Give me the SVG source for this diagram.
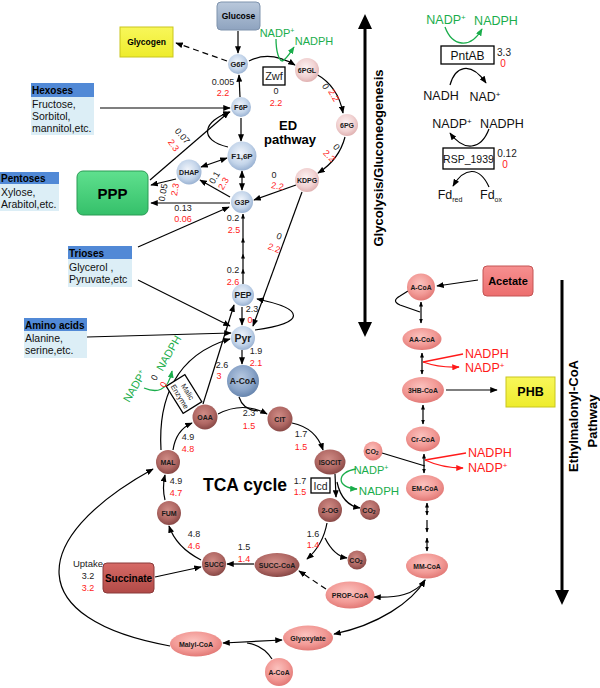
<svg xmlns="http://www.w3.org/2000/svg" width="600" height="688" viewBox="0 0 600 688">
<style>
.ln{fill:none;stroke:#000;stroke-width:1.2}
.ds{stroke-dasharray:6,4}
.gl{fill:none;stroke:#1aad4b;stroke-width:1.3}
.rl{fill:none;stroke:#ff1a1a;stroke-width:1.3}
.t{font-family:"Liberation Sans",Arial,sans-serif;font-size:9px;text-anchor:middle;fill:#222}
.nl{font-family:"Liberation Sans",Arial,sans-serif;font-weight:bold;font-size:7px;text-anchor:middle;fill:#1a1a1a}
.b{font-family:"Liberation Sans",Arial,sans-serif;font-weight:bold;text-anchor:middle;fill:#000}
.bx{font-family:"Liberation Sans",Arial,sans-serif;font-size:10.5px;fill:#111}
.hd{font-family:"Liberation Sans",Arial,sans-serif;font-size:10px;font-weight:bold;fill:#000}
.big{font-family:"Liberation Sans",Arial,sans-serif;font-size:12.5px;text-anchor:middle;fill:#111}
.st{text-anchor:start}
text.r{fill:#ff1a1a}
text.g{fill:#1aad4b}
.hdr{fill:#5189d6}
.bdy{fill:#dceef6}
.blue{fill:url(#gB)}
.dblue{fill:url(#gD)}
.pink{fill:url(#gP)}
.brn{fill:url(#gR)}
.sal{fill:url(#gS)}
</style>
<defs>
<radialGradient id="gB" cx="0.45" cy="0.4" r="0.65"><stop offset="0" stop-color="#f1f5fb"/><stop offset="0.6" stop-color="#c4d5ea"/><stop offset="1" stop-color="#90aacd"/></radialGradient>
<radialGradient id="gD" cx="0.45" cy="0.4" r="0.65"><stop offset="0" stop-color="#b8cae2"/><stop offset="0.6" stop-color="#8aa4c8"/><stop offset="1" stop-color="#5f7ea8"/></radialGradient>
<radialGradient id="gP" cx="0.45" cy="0.4" r="0.65"><stop offset="0" stop-color="#fdf3f3"/><stop offset="0.6" stop-color="#f1d2d2"/><stop offset="1" stop-color="#dcaaaa"/></radialGradient>
<radialGradient id="gR" cx="0.45" cy="0.38" r="0.65"><stop offset="0" stop-color="#d08c86"/><stop offset="0.6" stop-color="#b06864"/><stop offset="1" stop-color="#834442"/></radialGradient>
<radialGradient id="gS" cx="0.45" cy="0.38" r="0.65"><stop offset="0" stop-color="#fbc2be"/><stop offset="0.6" stop-color="#f29a96"/><stop offset="1" stop-color="#e07572"/></radialGradient>
<linearGradient id="gGl" x1="0" y1="0" x2="0" y2="1"><stop offset="0" stop-color="#b9c8db"/><stop offset="1" stop-color="#8ea3bf"/></linearGradient>
<linearGradient id="gPPP" x1="0" y1="0" x2="0" y2="1"><stop offset="0" stop-color="#5fe08e"/><stop offset="1" stop-color="#35c06a"/></linearGradient>
<linearGradient id="gSu" x1="0" y1="0" x2="0" y2="1"><stop offset="0" stop-color="#d66a66"/><stop offset="1" stop-color="#b14a47"/></linearGradient>
<linearGradient id="gAc" x1="0" y1="0" x2="0" y2="1"><stop offset="0" stop-color="#f69090"/><stop offset="1" stop-color="#ec6e6e"/></linearGradient>
<linearGradient id="gY" x1="0" y1="0" x2="0" y2="1"><stop offset="0" stop-color="#f8f75a"/><stop offset="1" stop-color="#eeec2c"/></linearGradient>
<marker id="ah" viewBox="0 0 10 8" refX="9" refY="4" markerWidth="7.5" markerHeight="6" markerUnits="userSpaceOnUse" orient="auto-start-reverse"><path d="M0,0L10,4L0,8z" fill="#000"/></marker>
<marker id="as" viewBox="0 0 10 8" refX="9" refY="4" markerWidth="5" markerHeight="4" markerUnits="userSpaceOnUse" orient="auto-start-reverse"><path d="M0,0L10,4L0,8z" fill="#000"/></marker>
<marker id="ag" viewBox="0 0 10 8" refX="9" refY="4" markerWidth="7.5" markerHeight="6" markerUnits="userSpaceOnUse" orient="auto-start-reverse"><path d="M0,0L10,4L0,8z" fill="#1aad4b"/></marker>
<marker id="ar" viewBox="0 0 10 8" refX="9" refY="4" markerWidth="7.5" markerHeight="6" markerUnits="userSpaceOnUse" orient="auto-start-reverse"><path d="M0,0L10,4L0,8z" fill="#ff1a1a"/></marker>
</defs>

<!-- Big axis arrows -->
<g id="axes">
<line x1="365" y1="27" x2="365" y2="324" stroke="#000" stroke-width="3"/>
<polygon points="358,29 372,29 365,14"/>
<polygon points="358,322 372,322 365,337"/>
<text class="b" font-size="13" transform="translate(383,158) rotate(-90)">Glycolysis/Gluconeogenesis</text>
<line x1="562" y1="280" x2="562" y2="592" stroke="#000" stroke-width="3"/>
<polygon points="555,590 569,590 562,605"/>
<text class="b" font-size="13" transform="translate(578,416) rotate(-90)">Ethylmalonyl-CoA</text>
<text class="b" font-size="13" transform="translate(597,421) rotate(-90)">Pathway</text>
</g>

<!-- Connectors -->
<g id="connectors">
<path class="ln" d="M238,31L238,53" marker-end="url(#ah)"/>
<path class="ln ds" d="M227,61L176,43" marker-end="url(#ah)"/>
<path class="ln" d="M240,97L239,75" marker-end="url(#ah)"/>
<path class="ln" d="M241,118L241,141" marker-end="url(#ah)"/>
<path class="ln" d="M242,171L242,190" marker-start="url(#ah)" marker-end="url(#ah)"/>
<path class="ln" d="M228,147C198,140 203,121 230,112" marker-end="url(#ah)"/>
<path class="ln" d="M100,108L230,108" marker-end="url(#ah)"/>
<path class="ln" d="M150,180L229,112" marker-end="url(#ah)"/>
<path class="ln" d="M201,167L227,158" marker-start="url(#ah)" marker-end="url(#ah)"/>
<path class="ln" d="M230,197L200,180" marker-end="url(#ah)"/>
<path class="ln" d="M176,179L151,185" marker-end="url(#ah)"/>
<path class="ln" d="M230,203L151,203" marker-end="url(#ah)"/>
<path class="ln" d="M138,247L229,207" marker-end="url(#ah)"/>
<path class="ln" d="M249,61Q270,50 295,65" marker-end="url(#ah)"/>
<path class="ln" d="M316,74Q338,86 343,113" marker-end="url(#ah)"/>
<path class="ln" d="M345,137Q339,160 318,173" marker-end="url(#ah)"/>
<path class="ln" d="M296,185L254,200" marker-end="url(#ah)"/>
<path class="ln" d="M302,192L253,326" marker-end="url(#ah)"/>
<path class="ln" d="M243,284L243,269" marker-end="url(#as)"/>
<path class="ln" d="M243,269L243,254" marker-end="url(#as)"/>
<path class="ln" d="M243,254L243,238" marker-end="url(#as)"/>
<path class="ln" d="M243,238L243,214" marker-end="url(#as)"/>
<path class="ln" d="M242,307L242,325" marker-end="url(#ah)"/>
<path class="ln" d="M255,330C306,323 306,309 257,299" marker-end="url(#ah)"/>
<path class="ln" d="M242,350L242,364" marker-end="url(#ah)"/>
<path class="ln" d="M138,280L230,326" marker-end="url(#ah)"/>
<path class="ln" d="M87,337L231,333" marker-end="url(#ah)"/>
<path class="ln" d="M161,450C158,400 175,355 230,339" marker-end="url(#ah)"/>
<path class="ln" d="M203,404L234,305" marker-end="url(#ah)"/>
<path class="ln" d="M239,397Q243,410 258,411"/>
<path class="ln" d="M218,414Q243,401 267,414" marker-end="url(#ah)"/>
<path class="ln" d="M292,423Q316,428 323,450" marker-end="url(#ah)"/>
<path class="ln" d="M335,474L336,497" marker-end="url(#ah)"/>
<path class="ln" d="M337,482Q342,505 360,508" marker-end="url(#ah)"/>
<path class="gl" d="M356,469C336,472 336,488 357,489" marker-end="url(#ag)"/>
<path class="ln" d="M327,523Q323,545 307,559" marker-end="url(#ah)"/>
<path class="ln" d="M325,538Q334,556 347,558" marker-end="url(#ah)"/>
<path class="ln" d="M254,564L227,564" marker-end="url(#ah)"/>
<path class="ln" d="M201,560Q176,547 169,526" marker-end="url(#ah)"/>
<path class="ln" d="M165,500Q162,488 165,475" marker-end="url(#ah)"/>
<path class="ln" d="M173,450Q176,430 192,423" marker-end="url(#ah)"/>
<path class="ln" d="M155,577L201,567" marker-end="url(#ah)"/>
<path class="ln" d="M170,646C25,620 25,540 153,469" marker-end="url(#ah)"/>
<path class="ln" d="M223,643L282,640" marker-start="url(#ah)" marker-end="url(#ah)"/>
<path class="ln" d="M272,659Q263,645 247,643"/>
<path class="ln ds" d="M326,589L299,571" marker-end="url(#ah)"/>
<path class="ln" d="M374,597C396,598 415,595 425,580" marker-start="url(#ah)" marker-end="url(#ah)"/>
<path class="ln" d="M334,634C378,625 412,602 425,580" marker-start="url(#ah)" marker-end="url(#ah)"/>
<path class="ln" d="M478,280L437,286" marker-end="url(#ah)"/>
<path class="ln" d="M421,302L421,323" marker-start="url(#as)" marker-end="url(#as)"/>
<path class="ln" d="M422,353L422,374" marker-start="url(#as)" marker-end="url(#as)"/>
<path class="ln" d="M423,405L423,424" marker-start="url(#as)" marker-end="url(#as)"/>
<path class="ln" d="M424,454L424,473" marker-start="url(#as)" marker-end="url(#as)"/>
<path class="ln" d="M427,503L427,515" marker-start="url(#as)" marker-end="url(#as)"/>
<path class="ln" d="M427,520L427,532" marker-end="url(#as)"/>
<path class="ln" d="M427,538L427,551" marker-start="url(#as)" marker-end="url(#as)"/>
<path class="ln" d="M446,390L497,390" marker-end="url(#ah)"/>
<path class="ln" d="M408,291L400,296Q391,301 400,305L420,312"/>
<path class="ln" d="M382,453L425,466"/>
<path class="rl" d="M463,354L423,362"/>
<path class="rl" d="M423,362Q440,368 459,367" marker-end="url(#ar)"/>
<path class="rl" d="M466,453L425,460"/>
<path class="rl" d="M425,460Q442,468 463,468" marker-end="url(#ar)"/>
<path class="gl" d="M276,39C276,52 279,60 282,61C286,60 290,53 294,47" marker-end="url(#ag)"/>
<path class="gl" d="M144,388C156,393 168,392 172,371" marker-end="url(#ag)"/>
<path class="gl" d="M445,27C452,46 470,50 482,29" marker-end="url(#ag)"/>
<path class="ln" d="M450,85C455,67 470,60 486,83" marker-end="url(#ah)"/>
<path class="ln" d="M489,129C481,150 464,152 450,133" marker-end="url(#ah)"/>
<path class="ln" d="M489,187C480,167 465,166 453,186" marker-end="url(#ah)"/>
</g>

<!-- Source boxes -->
<g id="glucose"><rect x="217" y="2" width="43" height="28" rx="4" fill="url(#gGl)" stroke="#7f93ad"/><text class="b" font-size="8.5" x="238.5" y="19">Glucose</text></g>
<g id="glycogen"><rect x="120" y="27" width="53" height="30" fill="url(#gY)" stroke="#c9c61e"/><text class="b" font-size="8.5" x="146.5" y="45">Glycogen</text></g>
<g id="hexoses"><rect class="hdr" x="31" y="83" width="63" height="14"/><rect class="bdy" x="31" y="97" width="63" height="38"/><text class="hd" x="32" y="94">Hexoses</text><text class="bx" x="32" y="108">Fructose,</text><text class="bx" x="32" y="120">Sorbitol,</text><text class="bx" x="32" y="132">mannitol,etc.</text></g>
<g id="pentoses"><rect class="hdr" x="0" y="172" width="59" height="12"/><rect class="bdy" x="0" y="184" width="59" height="27"/><text class="hd" x="1" y="182">Pentoses</text><text class="bx" x="1" y="196">Xylose,</text><text class="bx" x="1" y="208">Arabitol,etc.</text></g>
<g id="ppp"><rect x="77" y="171" width="71" height="44" rx="6" fill="url(#gPPP)" stroke="#2a9b55"/><text class="b" font-size="15" x="112.5" y="199">PPP</text></g>
<g id="trioses"><rect class="hdr" x="68" y="246" width="64" height="13"/><rect class="bdy" x="68" y="259" width="64" height="28"/><text class="hd" x="69" y="257">Trioses</text><text class="bx" x="69" y="271">Glycerol ,</text><text class="bx" x="69" y="283">Pyruvate,etc</text></g>
<g id="aminoacids"><rect class="hdr" x="24" y="318" width="63" height="13"/><rect class="bdy" x="24" y="331" width="63" height="27"/><text class="hd" x="25" y="329">Amino acids</text><text class="bx" x="25" y="342">Alanine,</text><text class="bx" x="25" y="354">serine,etc.</text></g>
<g id="succinate"><rect x="103" y="563" width="51" height="30" rx="4" fill="url(#gSu)" stroke="#8a3a3a"/><text class="b" font-size="10" x="128.5" y="582">Succinate</text><text class="t" style="font-size:9.5px" x="88" y="567">Uptake</text><text class="t" x="88" y="579">3.2</text><text class="t r" x="88" y="591">3.2</text></g>
<g id="acetate"><rect x="483" y="266" width="50" height="30" rx="4" fill="url(#gAc)" stroke="#c45454"/><text class="b" font-size="11" x="508" y="285">Acetate</text></g>
<g id="phb"><rect x="506" y="377" width="49" height="30" fill="url(#gY)" stroke="#c9c61e"/><text class="b" font-size="12.5" x="530.5" y="396">PHB</text></g>

<!-- Glycolysis / ED nodes -->
<g id="g6p"><circle class="blue" cx="238" cy="64" r="10"/><text class="nl" style="font-size:7.5px" x="238" y="66.5">G6P</text></g>
<g id="f6p"><circle class="blue" cx="241" cy="107" r="10"/><text class="nl" style="font-size:7.5px" x="241" y="109.5">F6P</text></g>
<g id="f16p"><circle class="blue" cx="242" cy="156" r="14.5"/><text class="nl" style="font-size:8px" x="242" y="159">F1,6P</text></g>
<g id="dhap"><circle class="blue" cx="189" cy="172" r="12.5"/><text class="nl" x="189" y="174.5">DHAP</text></g>
<g id="g3p"><circle class="blue" cx="242" cy="202" r="11"/><text class="nl" style="font-size:7.5px" x="242" y="204.5">G3P</text></g>
<g id="pgl"><circle class="pink" cx="307" cy="70" r="12"/><text class="nl" x="307" y="72.5">6PGL</text></g>
<g id="pg6"><circle class="pink" cx="347" cy="125" r="11"/><text class="nl" x="347" y="127.5">6PG</text></g>
<g id="kdpg"><circle class="pink" cx="307" cy="180" r="12"/><text class="nl" x="307" y="182.5">KDPG</text></g>
<g id="pep"><circle class="blue" cx="243" cy="295" r="11"/><text class="nl" style="font-size:8.5px" x="243" y="298">PEP</text></g>
<g id="pyr"><circle class="blue" cx="243" cy="338" r="12"/><text class="nl" style="font-size:10.5px" x="243" y="341.5">Pyr</text></g>
<g id="acoa"><circle class="dblue" cx="243" cy="381" r="16"/><text class="nl" style="font-size:8.5px" x="243" y="384">A-CoA</text></g>

<!-- TCA nodes -->
<g id="oaa"><circle class="brn" cx="205" cy="417" r="12.5"/><text class="nl" x="205" y="419.5">OAA</text></g>
<g id="cit"><circle class="brn" cx="280" cy="419" r="12.5"/><text class="nl" x="280" y="421.5">CIT</text></g>
<g id="isocit"><ellipse class="brn" cx="330" cy="462" rx="15.5" ry="12.5"/><text class="nl" style="font-size:6.8px" x="330" y="464.5">ISOCIT</text></g>
<g id="og"><circle class="brn" cx="330" cy="510" r="12"/><text class="nl" x="330" y="512.5">2-OG</text></g>
<g id="co2a"><circle class="brn" cx="370" cy="510" r="10"/><text class="nl" x="369" y="512.5">CO<tspan font-size="5" dy="1.5">2</tspan></text></g>
<g id="co2b"><circle class="brn" cx="357" cy="560" r="9.5"/><text class="nl" x="356" y="562.5">CO<tspan font-size="5" dy="1.5">2</tspan></text></g>
<g id="succoa"><ellipse class="brn" cx="277" cy="565" rx="22.5" ry="12"/><text class="nl" x="277" y="567.5">SUCC-CoA</text></g>
<g id="succ"><circle class="brn" cx="214" cy="564" r="12"/><text class="nl" style="font-size:6.8px" x="214" y="566.5">SUCC</text></g>
<g id="fum"><circle class="brn" cx="169" cy="513" r="12"/><text class="nl" x="169" y="515.5">FUM</text></g>
<g id="mal"><circle class="brn" cx="168" cy="462" r="12"/><text class="nl" x="168" y="464.5">MAL</text></g>

<!-- Ethylmalonyl-CoA nodes -->
<g id="acoa2"><ellipse class="sal" cx="421" cy="287" rx="14" ry="13.5"/><text class="nl" style="font-size:6.8px" x="421" y="289.5">A-CoA</text></g>
<g id="aacoa"><ellipse class="sal" cx="422" cy="339" rx="19.5" ry="11"/><text class="nl" style="font-size:6.8px" x="422" y="341.5">AA-CoA</text></g>
<g id="hbcoa"><ellipse class="sal" cx="423" cy="390" rx="21" ry="13"/><text class="nl" style="font-size:6.8px" x="423" y="392.5">3HB-CoA</text></g>
<g id="crcoa"><ellipse class="sal" cx="423" cy="439" rx="17" ry="12.5"/><text class="nl" style="font-size:6.8px" x="423" y="441.5">Cr-CoA</text></g>
<g id="co2c"><circle class="sal" cx="373" cy="451" r="9.5"/><text class="nl" x="372" y="453.5">CO<tspan font-size="5" dy="1.5">2</tspan></text></g>
<g id="emcoa"><ellipse class="sal" cx="425" cy="488" rx="19" ry="13"/><text class="nl" style="font-size:6.8px" x="425" y="490.5">EM-CoA</text></g>
<g id="mmcoa"><ellipse class="sal" cx="427" cy="566" rx="21" ry="12.5"/><text class="nl" style="font-size:6.8px" x="427" y="568.5">MM-CoA</text></g>
<g id="propcoa"><ellipse class="sal" cx="350" cy="595" rx="24.5" ry="13.5"/><text class="nl" x="350" y="597.5">PROP-CoA</text></g>
<g id="glyoxylate"><ellipse class="sal" cx="308" cy="638" rx="25" ry="12.5"/><text class="nl" x="308" y="640.5">Glyoxylate</text></g>
<g id="malylcoa"><ellipse class="sal" cx="196" cy="644" rx="26" ry="12.5"/><text class="nl" x="196" y="646.5">Malyl-CoA</text></g>
<g id="acoa3"><circle class="sal" cx="279" cy="672" r="14"/><text class="nl" style="font-size:6.8px" x="279" y="674.5">A-CoA</text></g>

<!-- Enzyme boxes and labels -->
<g id="zwf"><rect x="263" y="67" width="22" height="18" fill="#fff" stroke="#000" stroke-width="1.3"/><text class="t" style="font-size:11px" x="274" y="80">Zwf</text></g>
<g id="icd"><rect x="311" y="478" width="19" height="15" fill="#fff" stroke="#000" stroke-width="1.3"/><text class="t" style="font-size:10.5px" x="320.5" y="489.5">Icd</text></g>
<g id="malic" transform="translate(184,394) rotate(58)"><rect x="-16" y="-11" width="32" height="22" fill="#fff" stroke="#000" stroke-width="1.3"/><text class="t" style="font-size:7.5px" x="0" y="-1.5">Malic</text><text class="t" style="font-size:7.5px" x="0" y="7.5">Enzyme</text></g>
<g id="pntab"><rect x="441" y="46" width="53" height="18" fill="#fff" stroke="#000" stroke-width="1.3"/><text class="big" style="font-size:12px" x="467.5" y="60">PntAB</text><text class="t" style="font-size:10px" x="504" y="56">3.3</text><text class="t r" style="font-size:10px" x="503" y="67">0</text></g>
<g id="rsp"><rect x="443" y="148" width="51" height="21" fill="#fff" stroke="#000" stroke-width="1.3"/><text class="big" style="font-size:10.5px" x="468.5" y="162.5">RSP_1939</text><text class="t" style="font-size:10px" x="507" y="157">0.12</text><text class="t r" style="font-size:10px" x="505" y="168">0</text></g>

<g id="cofactors">
<text class="big g" x="446" y="24">NADP<tspan font-size="8" dy="-4">+</tspan></text>
<text class="big g" x="496" y="25">NADPH</text>
<text class="big" x="441" y="100">NADH</text>
<text class="big" x="485" y="101">NAD<tspan font-size="8" dy="-4">+</tspan></text>
<text class="big" x="452" y="128">NADP<tspan font-size="8" dy="-4">+</tspan></text>
<text class="big" x="502" y="128">NADPH</text>
<text class="big" x="450" y="199">Fd<tspan font-size="7" dy="3">red</tspan></text>
<text class="big" x="491" y="199">Fd<tspan font-size="7" dy="3">ox</tspan></text>
<text class="big g" style="font-size:11px" x="277" y="37">NADP<tspan font-size="7" dy="-4">+</tspan></text>
<text class="big g" style="font-size:11px" x="314" y="45">NADPH</text>
<text class="big g" style="font-size:11px" x="371" y="474">NADP<tspan font-size="7" dy="-4">+</tspan></text>
<text class="big g" style="font-size:11.5px" x="379" y="495">NADPH</text>
<text class="big g" style="font-size:11px" transform="translate(138,388) rotate(-60)">NADP<tspan font-size="7" dy="-4">+</tspan></text>
<text class="big g" style="font-size:11px" transform="translate(172,355) rotate(-60)">NADPH</text>
<text class="big r st" x="465" y="358">NADPH</text>
<text class="big r st" x="465" y="372">NADP<tspan font-size="8" dy="-4">+</tspan></text>
<text class="big r st" x="468" y="457">NADPH</text>
<text class="big r st" x="468" y="472">NADP<tspan font-size="8" dy="-4">+</tspan></text>
</g>

<g id="labels">
<text class="b" font-size="13" x="288" y="130">ED</text>
<text class="b" font-size="13" x="290" y="144">pathway</text>
<text class="b" font-size="17.5" x="245" y="491">TCA cycle</text>
<text class="t" x="223" y="85">0.005</text><text class="t r" x="223" y="96">2.2</text>
<text class="t" x="276" y="94">0</text><text class="t r" x="276" y="106">2.2</text>
<text class="t" transform="translate(323,88) rotate(60)">0</text><text class="t r" transform="translate(331,97) rotate(60)">2.2</text>
<text class="t" transform="translate(334,149) rotate(50)">0</text><text class="t r" transform="translate(327,158) rotate(45)">2.2</text>
<text class="t" x="274" y="178">0</text><text class="t r" transform="translate(277,189) rotate(10)">2.2</text>
<text class="t" transform="translate(278,239) rotate(20)">0</text><text class="t r" transform="translate(273,251) rotate(20)">2.2</text>
<text class="t" transform="translate(180,138) rotate(50)">0.07</text><text class="t r" transform="translate(171,147) rotate(55)">2.3</text>
<text class="t" transform="translate(166,193) rotate(-80)">0.05</text><text class="t r" transform="translate(178,190) rotate(-80)">2.3</text>
<text class="t" transform="translate(217,179) rotate(-60)">0.1</text><text class="t r" transform="translate(226,185) rotate(-60)">2.3</text>
<text class="t" x="183" y="211">0.13</text><text class="t r" x="183" y="222">0.06</text>
<text class="t" x="233" y="221">0.2</text><text class="t r" x="234" y="233">2.5</text>
<text class="t" x="233" y="273">0.2</text><text class="t r" x="233" y="285">2.6</text>
<text class="t" x="252" y="312">2.3</text><text class="t r" x="250" y="323">0</text>
<text class="t" x="256" y="354">1.9</text><text class="t r" x="256" y="366">2.1</text>
<text class="t" x="222" y="368">2.6</text><text class="t r" x="219" y="379">3</text>
<text class="t" transform="translate(157,379) rotate(-60)">0</text><text class="t r" transform="translate(166,386) rotate(-60)">0</text>
<text class="t" x="249" y="416">2.3</text><text class="t r" x="249" y="429">1.5</text>
<text class="t" x="301" y="437">1.7</text><text class="t r" x="301" y="450">1.5</text>
<text class="t" x="188" y="440">4.9</text><text class="t r" x="188" y="452">4.8</text>
<text class="t" x="176" y="484">4.9</text><text class="t r" x="176" y="496">4.7</text>
<text class="t" x="300" y="484">1.7</text><text class="t r" x="300" y="495">1.5</text>
<text class="t" x="313" y="537">1.6</text><text class="t r" x="313" y="548">1.4</text>
<text class="t" x="244" y="550">1.5</text><text class="t r" x="244" y="562">1.4</text>
<text class="t" x="194" y="537">4.8</text><text class="t r" x="194" y="549">4.6</text>
</g>
</svg>
